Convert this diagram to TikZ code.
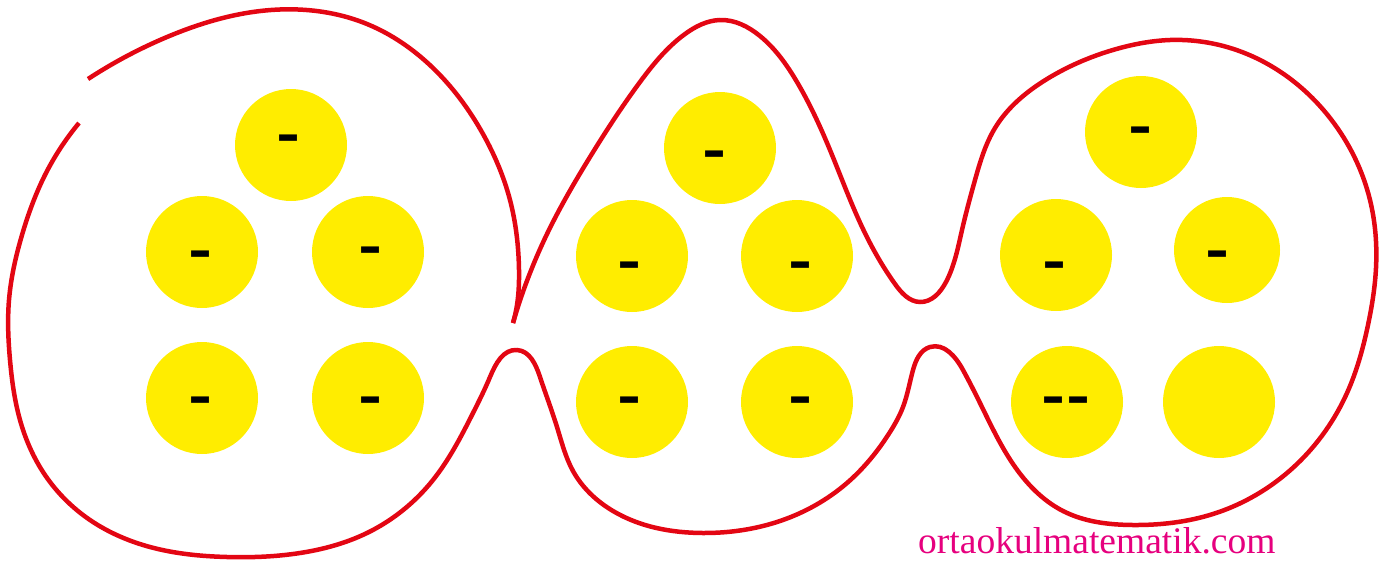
\documentclass[tikz,border=0pt]{standalone}
\usepackage{fontspec}
\setmainfont{Liberation Serif}
\newfontfamily\barfont{Liberation Sans}
\usepackage{graphicx}
\usetikzlibrary{hobby}
\definecolor{curvered}{RGB}{227,6,19}
\definecolor{ballyellow}{RGB}{255,237,0}
\definecolor{markpink}{RGB}{230,0,126}
\tikzset{
  ball/.style={circle, fill=ballyellow, draw=none, minimum size=112pt, inner sep=0pt},
  smallball/.style={ball, minimum size=106pt},
  minusmark/.style={inner sep=0pt, yshift=-8pt, font=\barfont\bfseries\fontsize{36}{36}\selectfont},
  redline/.style={draw=curvered, line width=4.5pt, line join=miter, line cap=butt},
}
\begin{document}
\begin{tikzpicture}[x=1pt, y=-1pt]
\useasboundingbox (0,0) rectangle (1395,560);
% balls - left group
\node[ball] (a1) at (291,145) {};
\node[ball] (a2) at (202,252) {};
\node[ball] (a3) at (368,252) {};
\node[ball] (a4) at (202,398) {};
\node[ball] (a5) at (368,398) {};
% balls - middle group
\node[ball] (b1) at (720,148) {};
\node[ball] (b2) at (632,256) {};
\node[ball] (b3) at (797,256) {};
\node[ball] (b4) at (632,402) {};
\node[ball] (b5) at (797,402) {};
% balls - right group
\node[ball] (c1) at (1141,132) {};
\node[ball] (c2) at (1056,255) {};
\node[smallball] (c3) at (1227,250) {};
\node[ball] (c4) at (1067,402) {};
\node[ball] (c5) at (1219,402) {};
% minus signs
\node[minusmark] (ma1) at (289,137) {\scalebox{1}[1.8]{–}};
\node[minusmark] (ma2) at (201,253) {\scalebox{1}[1.8]{–}};
\node[minusmark] (ma3) at (371,249) {\scalebox{1}[1.8]{–}};
\node[minusmark] (ma4) at (201,399) {\scalebox{1}[1.8]{–}};
\node[minusmark] (ma5) at (371,399) {\scalebox{1}[1.8]{–}};
\node[minusmark] (mb1) at (715,153) {\scalebox{1}[1.8]{–}};
\node[minusmark] (mb2) at (630,264) {\scalebox{1}[1.8]{–}};
\node[minusmark] (mb3) at (801,264) {\scalebox{1}[1.8]{–}};
\node[minusmark] (mb4) at (630,399) {\scalebox{1}[1.8]{–}};
\node[minusmark] (mb5) at (801,399) {\scalebox{1}[1.8]{–}};
\node[minusmark] (mc1) at (1140,129) {\scalebox{1}[1.8]{–}};
\node[minusmark] (mc2) at (1054,264) {\scalebox{1}[1.8]{–}};
\node[minusmark] (mc3) at (1217,253) {\scalebox{1}[1.8]{–}};
\node[minusmark] (mc4) at (1066.5,399) {\scalebox{1}[1.8]{–\kern5pt–}};
% red outline: upper arc of the left loop, ending in the cusp
\draw[redline, use Hobby shortcut] (88,79) .. (167,37) .. (271,10) .. (367,24) .. (433,68)
  .. (483,134) .. (510,200) .. (519,270) .. (517,305) .. (513,323);
% red outline: from the cusp round all three loops back to the gap
\draw[redline, use Hobby shortcut] (513,323) .. (547,234) .. (590,157) .. (640,82) .. (685,34)
  .. (720,20) .. (760,36) .. (797,82) .. (830,150) .. (863,229) .. (895,284) .. (920,302)
  .. (946,282) .. (962,230) .. (975,180) .. (995,128) .. (1047,79) .. (1120,48) .. (1170,40)
  .. (1247,54) .. (1330,118) .. (1370,200) .. (1376,268) .. (1368,325) .. (1347,393)
  .. (1297,464) .. (1213,514) .. (1133,525) .. (1063,511) .. (1013,464) .. (980,403)
  .. (963,370) .. (930,347) .. (913,370) .. (903,407) .. (890,432) .. (847,483)
  .. (780,521) .. (703,533) .. (613,511) .. (573,471) .. (557,427) .. (540,377) .. (517,350)
  .. (490,377) .. (473,413) .. (433,480) .. (367,533) .. (300,553) .. (227,557) .. (150,547)
  .. (90,520) .. (45,475) .. (20,420) .. (10,360) .. (9,300) .. (22,235) .. (45,175) .. (79,123);
% watermark
\node[anchor=base west, inner sep=0pt, text=markpink, font=\fontsize{37.5}{40}\selectfont] (wm) at (918,553) {ortaokulmatematik.com};
\end{tikzpicture}
\end{document}
